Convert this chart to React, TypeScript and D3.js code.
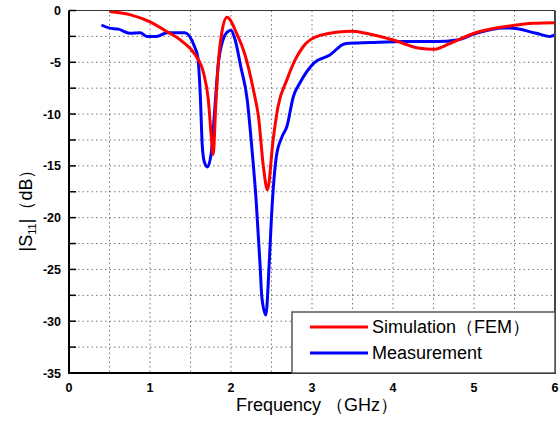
import React from "react";
import * as d3 from "d3";

// simulated S11 (FEM)
const freqSim = [0.5, 0.75, 1.0, 1.2, 1.4, 1.56, 1.66, 1.72, 1.76, 1.78, 1.81, 1.84, 1.885, 1.95, 2.07, 2.17, 2.28, 2.34, 2.4, 2.45, 2.52, 2.58, 2.69, 2.79, 2.89, 3.1, 3.5, 3.72, 4.0, 4.33, 4.5, 4.7, 5.0, 5.44, 5.73, 6.0];
const s11Sim = [-0.1, -0.4, -1.1, -2.0, -3.0, -4.3, -6.0, -8.6, -12.5, -13.9, -9.5, -5.4, -2.2, -0.66, -2.2, -4.2, -7.8, -10.3, -15.1, -17.3, -12.5, -9.3, -6.7, -4.8, -3.5, -2.4, -2.0, -2.3, -2.85, -3.65, -3.75, -3.2, -2.2, -1.5, -1.24, -1.18];

// measured S11
const freqMeas = [0.4, 0.5, 0.61, 0.75, 0.88, 0.96, 1.08, 1.21, 1.43, 1.55, 1.59, 1.62, 1.645, 1.67, 1.71, 1.76, 1.8, 1.84, 1.9, 1.95, 2.0, 2.05, 2.12, 2.2, 2.26, 2.31, 2.36, 2.38, 2.43, 2.47, 2.5, 2.56, 2.63, 2.69, 2.77, 2.85, 3.02, 3.22, 3.41, 3.72, 4.13, 4.54, 4.79, 5.03, 5.36, 5.44, 5.77, 5.94, 6.0];
const s11Meas = [-1.4, -1.7, -1.8, -2.2, -2.15, -2.5, -2.5, -2.15, -2.15, -3.5, -4.5, -8.0, -13.0, -14.6, -15.1, -13.5, -9.5, -5.4, -2.85, -2.1, -1.9, -2.8, -5.4, -8.6, -13.5, -18.3, -24.7, -27.6, -29.4, -24.7, -19.9, -14.1, -12.2, -11.2, -8.3, -7.0, -5.1, -4.3, -3.2, -3.1, -3.0, -3.0, -2.85, -2.2, -1.7, -1.7, -2.2, -2.5, -2.35];

const xTicks = [0, 1, 2, 3, 4, 5, 6];
const yTicks = [0, -5, -10, -15, -20, -25, -30, -35];
const legendNames = ["Simulation（FEM）", "Measurement"];

export default function App() {
  const left = 69, right = 555, top = 10.5, bottom = 373;
  const x = d3.scaleLinear().domain([0, 6]).range([left, right]);
  const y = d3.scaleLinear().domain([-35, 0]).range([bottom, top]);

  const line = d3
    .line<[number, number]>()
    .x((d) => x(d[0]))
    .y((d) => y(d[1]))
    .curve(d3.curveMonotoneX);

  const simPath = line(freqSim.map((f, i) => [f, s11Sim[i]]));
  const measPath = line(freqMeas.map((f, i) => [f, s11Meas[i]]));

  const xGrid = d3.range(0.5, 6, 0.5);
  const yGrid = d3.range(-2.5, -35, -2.5);

  const font = "Arial, 'Liberation Sans', sans-serif";

  return (
    <div style={{ position: "absolute", left: 0, top: 0 }}>
      <svg width={559} height={422} style={{ display: "block", background: "#fff" }}>
        {/* grid */}
        <g stroke="#777" strokeWidth={1} strokeDasharray="1.5,3">
          {xGrid.map((g) => (
            <line key={"x" + g} x1={x(g)} x2={x(g)} y1={top} y2={bottom} />
          ))}
          {yGrid.map((g) => (
            <line key={"y" + g} x1={left} x2={right} y1={y(g)} y2={y(g)} />
          ))}
        </g>

        {/* curves */}
        <path d={measPath || ""} fill="none" stroke="#0000ff" strokeWidth={3} strokeLinejoin="round" />
        <path d={simPath || ""} fill="none" stroke="#ff0000" strokeWidth={3} strokeLinejoin="round" />

        {/* frame */}
        <line x1={left} x2={right} y1={top} y2={top} stroke="#333" strokeWidth={1} />
        <line x1={right} x2={right} y1={top} y2={bottom} stroke="#444" strokeWidth={2} />
        <line x1={left} x2={left} y1={top} y2={bottom + 1} stroke="#000" strokeWidth={2} />
        <line x1={left - 1} x2={right + 1} y1={bottom} y2={bottom} stroke="#000" strokeWidth={2} />

        {/* y ticks, inward */}
        {d3.range(0, -35.1, -2.5).map((t) => (
          <line key={"yt" + t} x1={left} x2={left + 7} y1={y(t)} y2={y(t)} stroke="#000" strokeWidth={1.5} />
        ))}

        {/* tick labels */}
        <g fontFamily={font} fontWeight="bold" fontSize={12.5} fill="#000">
          {yTicks.map((t) => (
            <text key={"yl" + t} x={61} y={y(t) + 4.5} textAnchor="end">
              {t}
            </text>
          ))}
          {xTicks.map((t) => (
            <text key={"xl" + t} x={x(t)} y={392} textAnchor="middle">
              {t}
            </text>
          ))}
        </g>

        {/* axis titles */}
        <text x={317} y={411} textAnchor="middle" fontFamily={font} fontSize={18} fill="#000">
          Frequency （GHz）
        </text>
        <text
          transform="translate(32,206) rotate(-90)"
          textAnchor="middle"
          fontFamily={font}
          fontSize={18}
          fill="#000"
        >
          |S<tspan fontSize={11} dy={4}>11</tspan>
          <tspan dy={-4}>|（dB）</tspan>
        </text>

        {/* legend */}
        <rect x={292} y={312} width={263} height={61} fill="#fff" stroke="#555" strokeWidth={1.5} />
        {legendNames.map((name, i) => (
          <g key={name}>
            <line
              x1={310}
              x2={368}
              y1={327 + i * 26}
              y2={327 + i * 26}
              stroke={i === 0 ? "#ff0000" : "#0000ff"}
              strokeWidth={3}
            />
            <text x={372} y={333 + i * 26} fontFamily={font} fontSize={18} fill="#000">
              {name}
            </text>
          </g>
        ))}
      </svg>
    </div>
  );
}
